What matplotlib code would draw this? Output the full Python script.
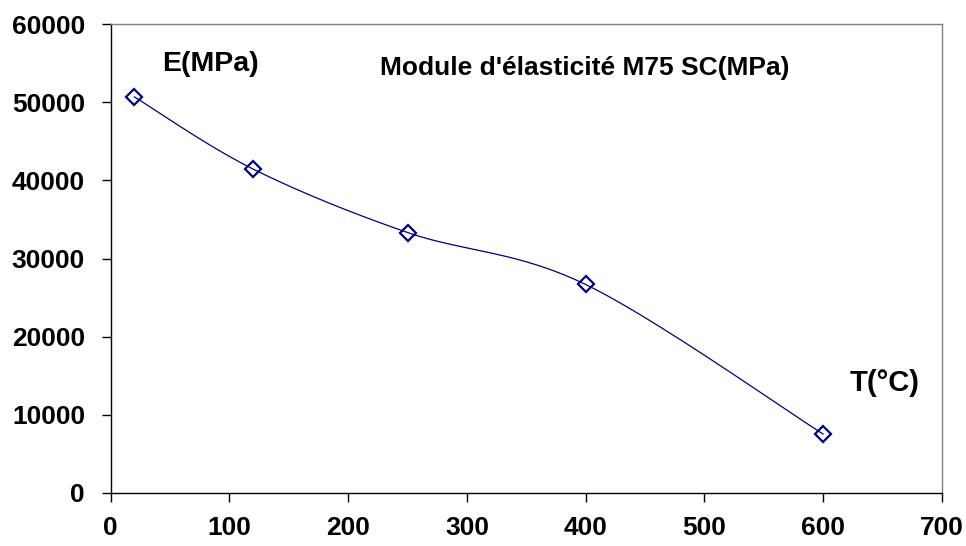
import numpy as np
import matplotlib
matplotlib.use("Agg")
import matplotlib.pyplot as plt

temps = [20, 120, 250, 400, 600]
modulus = [50700, 41450, 33330, 26680, 7520]
x_ticks = [0, 100, 200, 300, 400, 500, 600, 700]
y_ticks = [0, 10000, 20000, 30000, 40000, 50000, 60000]

plt.rcParams['font.family'] = ['Liberation Sans', 'DejaVu Sans']

def smooth(xs, ys, n=40):
    # Excel-style smoothed line (Catmull-Rom Bezier through the points)
    xs = np.asarray(xs, float); ys = np.asarray(ys, float)
    px = np.concatenate([[xs[0]], xs, [xs[-1]]])
    py = np.concatenate([[ys[0]], ys, [ys[-1]]])
    ox, oy = [], []
    for i in range(1, len(px) - 2):
        p0 = np.array([px[i-1], py[i-1]]); p1 = np.array([px[i], py[i]])
        p2 = np.array([px[i+1], py[i+1]]); p3 = np.array([px[i+2], py[i+2]])
        c1 = p1 + (p2 - p0) / 6.0
        c2 = p2 - (p3 - p1) / 6.0
        t = np.linspace(0, 1, n)[:, None]
        b = ((1-t)**3)*p1 + 3*((1-t)**2)*t*c1 + 3*(1-t)*t**2*c2 + t**3*p2
        ox.extend(b[:, 0]); oy.extend(b[:, 1])
    return np.array(ox), np.array(oy)

fig = plt.figure(figsize=(9.66, 5.46), dpi=100)
ax = fig.add_axes([0.1146, 0.0976, 0.8603, 0.8579])

sx, sy = smooth(temps, modulus)
ax.plot(sx, sy, color='#000080', lw=0.9, zorder=2)
ax.plot(temps, modulus, linestyle='none', marker='D', markersize=8,
        markerfacecolor='none', markeredgecolor='#000080', markeredgewidth=1.6, zorder=3)

ax.set_xlim(0, 700)
ax.set_ylim(0, 60000)
ax.set_xticks(x_ticks)
ax.set_yticks(y_ticks)
ax.set_xticklabels([str(v) for v in x_ticks], fontsize=19, fontweight='bold')
ax.set_yticklabels([str(v) for v in y_ticks], fontsize=19, fontweight='bold')
ax.tick_params(direction='out', length=6.5, width=1, color='black')
ax.tick_params(axis='x', pad=10)
ax.tick_params(axis='y', pad=12)
for s in ['left', 'bottom']:
    ax.spines[s].set_color('black'); ax.spines[s].set_linewidth(1.0)
for s in ['top', 'right']:
    ax.spines[s].set_color('#808080'); ax.spines[s].set_linewidth(1.0)

ax.text(84, 54900, 'E(MPa)', fontsize=20.5, fontweight='bold', ha='center', va='center')
ax.text(399, 54400, "Module d'élasticité M75 SC(MPa)", fontsize=19, fontweight='bold', ha='center', va='center')
ax.text(652, 14000, 'T(°C)', fontsize=21, fontweight='bold', ha='center', va='center')

fig.savefig('out.png', dpi=100)
